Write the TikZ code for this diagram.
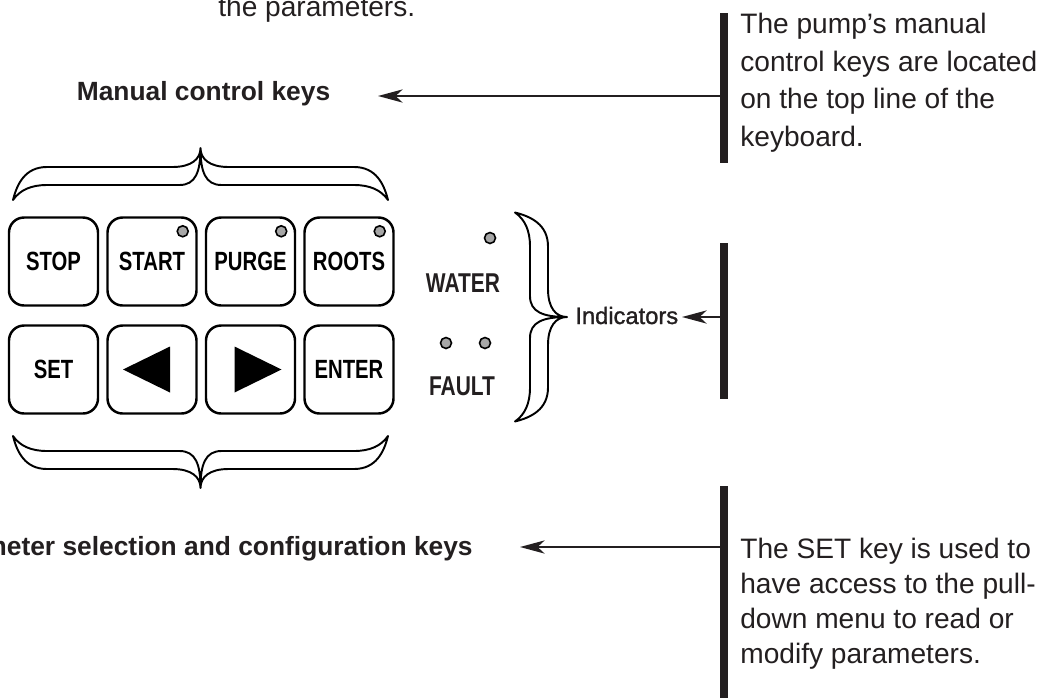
\documentclass[tikz,border=0pt]{standalone}
\usepackage{fontspec}
\setmainfont{Liberation Sans}
\newfontfamily\keyfont{Liberation Sans}[FakeStretch=0.77]
\newfontfamily\midfont{Liberation Sans}[FakeBold=1.2]
\definecolor{ink}{HTML}{231F20}
\definecolor{ledgray}{HTML}{A7A7A7}
\usetikzlibrary{positioning, arrows.meta}

\begin{document}
\begin{tikzpicture}[x=0.02cm, y=-0.02cm,
  kbkey/.style={draw, line width=1.4pt, rounded corners=0.3cm,
                minimum width=1.78cm, minimum height=1.76cm, inner sep=0pt,
                font=\keyfont\bfseries\fontsize{15}{18}\selectfont},
  led/.style={circle, draw, fill=ledgray, line width=0.9pt, minimum size=0.22cm, inner sep=0pt},
  tag/.style={font=\keyfont\bfseries\fontsize{15.5}{18}\selectfont, text=ink, inner sep=0pt},
  headline/.style={font=\bfseries\fontsize{15}{18}\selectfont, text=ink, inner sep=0pt},
  note/.style={font=\fontsize{16}{19.8}\selectfont, text=ink, align=left,
               inner sep=0pt, anchor=north west},
  bar/.style={line width=4.5pt, draw=ink},
  pointer/.style={-{Stealth[length=14pt, width=7.5pt, inset=4pt]}, line width=1.1pt, draw=ink},
  pics/obrace/.style={code={
    \path[draw, fill=white, line width=1.1pt, line join=round]
      (-#1,52) .. controls (-#1+4,36) and (-#1+12,19) .. (-#1+34,19)
      -- (-28,19) .. controls (-9,19) and (0,11) .. (0,0)
      .. controls (0,11) and (9,19) .. (28,19)
      -- (#1-34,19) .. controls (#1-12,19) and (#1-4,36) .. (#1,52)
      .. controls (#1-7,42) and (#1-18,37) .. (#1-34,37)
      -- (21,37) .. controls (5,37) and (0,24) .. (0,0)
      .. controls (0,24) and (-5,37) .. (-21,37)
      -- (-#1+34,37) .. controls (-#1+18,37) and (-#1+7,42) .. (-#1,52) -- cycle;
  }}
]
\useasboundingbox (0,0) rectangle (1045,697);

\node[note, anchor=base west] (prevNote) at (218,16) {the parameters.};

\node[kbkey] (kStop) at (53.5,261.5) {STOP};
\node[kbkey] (kStart) at (152,261.5) {START};
\node[kbkey] (kPurge) at (250.5,261.5) {PURGE};
\node[kbkey] (kRoots) at (349,261.5) {ROOTS};
\node[kbkey] (kSet) at (53.5,369.5) {SET};
\node[kbkey] (kLeft) at (152,369.5) {};
\node[kbkey] (kRight) at (250.5,369.5) {};
\node[kbkey] (kEnter) at (349,369.5) {ENTER};

\node[led, xshift=-0.3cm, yshift=-0.3cm] (ledStart) at (kStart.north east) {};
\node[led, xshift=-0.3cm, yshift=-0.3cm] (ledPurge) at (kPurge.north east) {};
\node[led, xshift=-0.3cm, yshift=-0.3cm] (ledRoots) at (kRoots.north east) {};

\fill[black] (kLeft.center) ++(-29,0) -- ++(47,-23) -- ++(0,46) -- cycle;
\fill[black] (kRight.center) ++(31,0) -- ++(-47,-23) -- ++(0,46) -- cycle;

\node[led] (ledWater) at (490,238) {};
\node[tag, anchor=base] (waterTag) at (463,292) {WATER};
\node[led] (ledFaultA) at (446,343) {};
\node[led] (ledFaultB) at (485,343) {};
\node[tag, anchor=base] (faultTag) at (462,395) {FAULT};

\pic (topBrace) at (200.5,148) {obrace=187.5};
\pic[rotate=180] (lowBrace) at (200.5,488) {obrace=187.5};
\pic[rotate=-90] (ledBrace) at (567,317) {obrace=104.5};

\node[headline, anchor=base] (manualTag) at (203.5,100) {Manual control keys};
\node[headline, anchor=base east] (paramTag) at (473,555) {Parameter selection and configuration keys};
\node[font=\midfont\fontsize{13.5}{16}\selectfont, text=ink, inner sep=0pt, anchor=base west] (ledTag) at (575,324) {Indicators};

\coordinate (barA-top) at (724,13);
\coordinate (barA-bot) at (724,163);
\coordinate (barB-top) at (724,243);
\coordinate (barB-bot) at (724,399);
\coordinate (barC-top) at (724,486);
\coordinate (barC-bot) at (724,700);
\draw[bar] (barA-top) -- (barA-bot);
\draw[bar] (barB-top) -- (barB-bot);
\draw[bar] (barC-top) -- (barC-bot);

\coordinate (manualTip) at (378,96);
\coordinate (ledTip) at (682,317);
\coordinate (paramTip) at (520,547);
\draw[pointer] (barA-top |- manualTip) -- (manualTip);
\draw[pointer] (barB-top |- ledTip) -- (ledTip);
\draw[pointer] (barC-top |- paramTip) -- (paramTip);

\node[note, font=\fontsize{16}{21.5}\selectfont] (pumpNote) at (740,12.6) {The pump’s manual\\control keys are located\\on the top line of the\\keyboard.};
\node[note] (setNote) at (740,538) {The SET key is used to\\have access to the pull-\\down menu to read or\\modify parameters.};
\end{tikzpicture}
\end{document}
